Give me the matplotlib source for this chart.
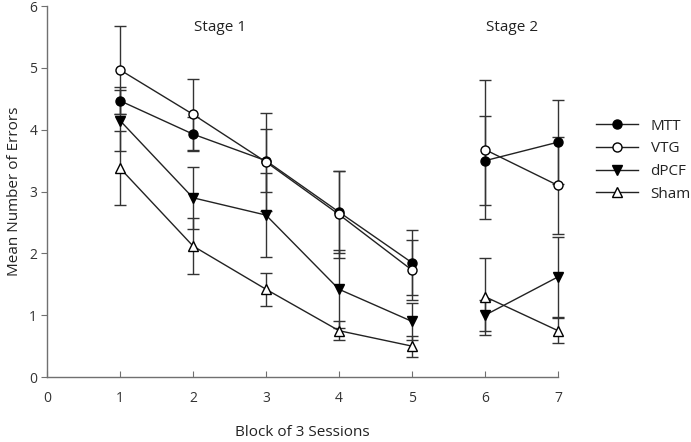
import matplotlib
matplotlib.use("Agg")
import matplotlib.pyplot as plt
from matplotlib.lines import Line2D

plt.rcParams['font.family'] = ['Open Sans', 'DejaVu Sans']

blocks_stage1 = [1, 2, 3, 4, 5]
blocks_stage2 = [6, 7]

mtt = [4.47, 3.93, 3.50, 2.67, 1.85, 3.50, 3.80]
mtt_err = [0.22, 0.27, 0.51, 0.66, 0.53, 0.72, 0.68]
vtg = [4.97, 4.25, 3.48, 2.63, 1.73, 3.68, 3.10]
vtg_err = [0.71, 0.58, 0.79, 0.70, 0.48, 1.12, 0.78]
dpcf = [4.15, 2.90, 2.62, 1.42, 0.90, 1.00, 1.62]
dpcf_err = [0.50, 0.50, 0.68, 0.63, 0.30, 0.25, 0.65]
sham = [3.38, 2.12, 1.42, 0.75, 0.50, 1.30, 0.75]
sham_err = [0.60, 0.45, 0.27, 0.15, 0.17, 0.62, 0.20]

series = [
    ("MTT", mtt, mtt_err, dict(marker='o', mfc='black', mec='black')),
    ("VTG", vtg, vtg_err, dict(marker='o', mfc='white', mec='black')),
    ("dPCF", dpcf, dpcf_err, dict(marker='v', mfc='black', mec='black')),
    ("Sham", sham, sham_err, dict(marker='^', mfc='white', mec='black')),
]

fig = plt.figure(figsize=(6.91, 4.42), dpi=100)
ax = fig.add_axes([0.068, 0.147, 0.7395, 0.839])

n1 = len(blocks_stage1)
handles = []
for name, vals, errs, mstyle in series:
    for xs, ys, es in [(blocks_stage1, vals[:n1], errs[:n1]),
                       (blocks_stage2, vals[n1:], errs[n1:])]:
        ax.errorbar(xs, ys, yerr=es, fmt='none', ecolor='#333333',
                    elinewidth=1.0, capsize=4, capthick=1.0, clip_on=False,
                    zorder=2)
        ax.plot(xs, ys, color='#222222', lw=1.0, markersize=6.5,
                markeredgewidth=1.0, clip_on=False, zorder=3, **mstyle)
    handles.append(Line2D([], [], color='#222222', lw=1.0, markersize=6.5,
                          markeredgewidth=1.0, **mstyle))

ax.set_xlim(0, 7)
ax.set_ylim(0, 6)
ax.set_xticks(range(0, 8))
ax.set_yticks(range(0, 7))
for s in ['top', 'right']:
    ax.spines[s].set_visible(False)
for s in ['left', 'bottom']:
    ax.spines[s].set_color('#707070')
    ax.spines[s].set_linewidth(1.0)
ax.tick_params(axis='x', direction='in', length=4, color='#707070',
               labelsize=10, labelcolor='#333333', pad=10)
ax.tick_params(axis='y', direction='out', length=4, color='#707070',
               labelsize=10, labelcolor='#333333', pad=3)

ax.set_xlabel("Block of 3 Sessions", fontsize=11, color='#222222', labelpad=14)
ax.set_ylabel("Mean Number of Errors", fontsize=11, color='#222222', labelpad=5)

ax.text(0.339, 0.943, "Stage 1", transform=ax.transAxes,
        fontsize=11, color='#222222', ha='center', va='center')
ax.text(0.91, 0.943, "Stage 2", transform=ax.transAxes,
        fontsize=11, color='#222222', ha='center', va='center')

leg = fig.legend(handles, [s[0] for s in series], loc='upper left',
                 bbox_to_anchor=(0.853, 0.745), frameon=False, fontsize=11,
                 handlelength=2.8, labelspacing=0.5, handletextpad=0.8,
                 borderaxespad=0)
for t in leg.get_texts():
    t.set_color('#222222')

fig.savefig("out.png", dpi=100)
